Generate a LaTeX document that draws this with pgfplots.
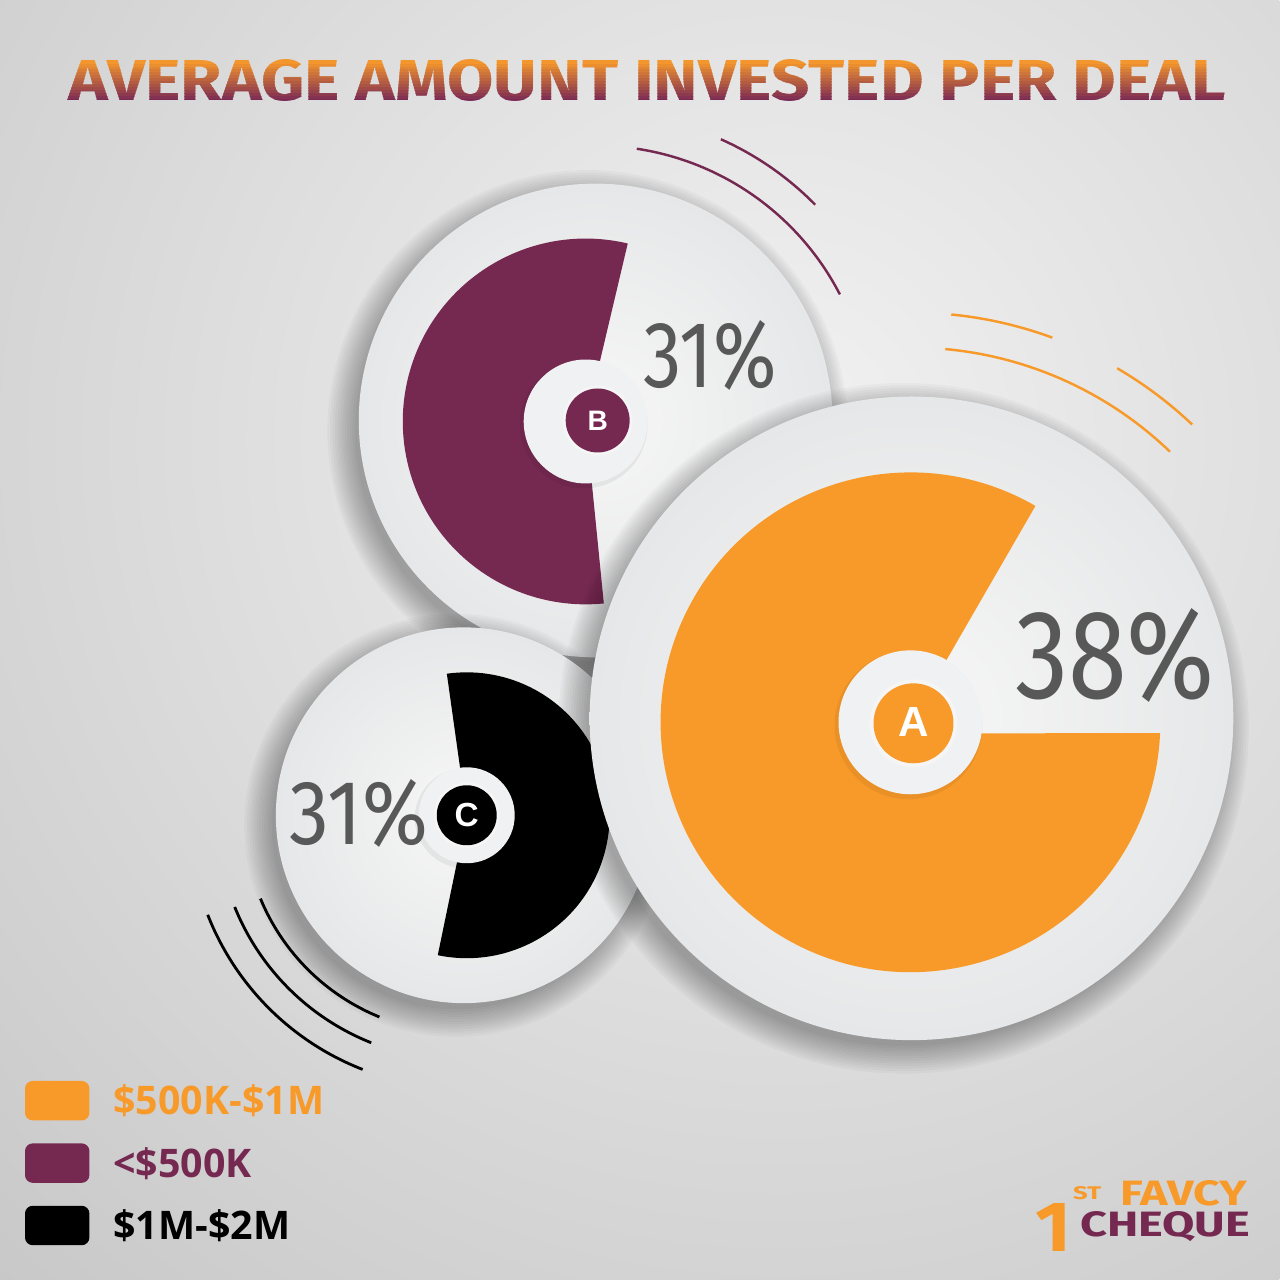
\documentclass[border=0pt]{standalone}
\usepackage{pgfplots}
\pgfplotsset{compat=1.18}
\usepackage{fontspec}
\setmainfont{Open Sans}
\newfontfamily\titlefont{Fira Sans}
\newfontfamily\pctfont{Fira Sans}
\newfontfamily\dotfont{Liberation Sans}

\definecolor{orangeA}{RGB}{248,154,42}
\definecolor{purpleB}{RGB}{117,41,81}
\definecolor{pctgray}{RGB}{88,88,88}
\definecolor{titletop}{RGB}{243,150,45}
\definecolor{titlebot}{RGB}{122,41,84}
\definecolor{bgin}{RGB}{242,242,242}
\definecolor{bgout}{RGB}{200,200,200}
\definecolor{discin}{RGB}{247,247,247}
\definecolor{discout}{RGB}{230,231,232}
\definecolor{ringcol}{RGB}{240,241,242}

% soft shadow + shaded disc, coordinates in px (y up)
\newcommand{\disc}[3]{%
  \foreach \k in {0,...,11}{\fill[black,opacity=0.028] (#1-8,#2-10) circle[radius=#3-4+\k*2.5];}
  \shade[inner color=discin, outer color=discout] (#1,#2) circle[radius=#3];
}
\newcommand{\ring}[3]{%
  \fill[black,opacity=0.06] (#1-2,#2-3) circle[radius=#3+2];
  \fill[ringcol] (#1,#2) circle[radius=#3];
}

\begin{document}
\begin{tikzpicture}
% ---- decoration: background, discs, wedges, arcs (1 unit = 1 px)
\begin{scope}[x=0.01cm, y=0.01cm]
  \begin{scope}
    \clip (0,0) rectangle (1280,1280);
    \shade[inner color=bgin, outer color=bgout] (780,840) circle[radius=1150];
  \end{scope}

  % arcs
  \draw[purpleB, line width=0.7pt] (596,860) ++(81.4:275) arc[start angle=81.4, end angle=27.3, radius=275];
  \draw[purpleB, line width=0.7pt] (596,860) ++(66:308) arc[start angle=66, end angle=44.5, radius=308];
  \draw[orangeA, line width=0.7pt] (912,560) ++(84.4:408) arc[start angle=84.4, end angle=69.8, radius=408];
  \draw[orangeA, line width=0.7pt] (912,560) ++(84.8:373) arc[start angle=84.8, end angle=46.1, radius=373];
  \draw[orangeA, line width=0.7pt] (912,560) ++(59.7:408) arc[start angle=59.7, end angle=46.5, radius=408];
  \draw[black, line width=0.8pt] (462,465) ++(202.5:218) arc[start angle=202.5, end angle=247.8, radius=218];
  \draw[black, line width=0.8pt] (462,465) ++(202:245) arc[start angle=202, end angle=248.3, radius=245];
  \draw[black, line width=0.8pt] (462,465) ++(201.4:273) arc[start angle=201.4, end angle=248.7, radius=273];

  % B
  \disc{596}{860}{237}
  \fill[purpleB] (586,859) -- ++(76.7:183) arc[start angle=76.7, end angle=275.7, radius=183] -- cycle;
  \ring{586}{859}{62}
  \fill[white!92!gray] (598,860) circle[radius=35];
  \fill[purpleB] (598,860) circle[radius=32];
  \node[text=white, font=\dotfont\bfseries\fontsize{8}{9}\selectfont] at (598,860) {B};

  % C
  \disc{464}{465}{188}
  \fill[black] (467,465) -- ++(-101.7:143) arc[start angle=-101.7, end angle=98, radius=143] -- cycle;
  \ring{467}{465}{48}
  \fill[white!92!gray] (467,465) circle[radius=33];
  \fill[black] (467,465) circle[radius=30];
  \node[text=white, font=\dotfont\bfseries\fontsize{9.5}{10}\selectfont] at (467,465) {C};

  % A
  \disc{912}{562}{322}
  \fill[orangeA] (911,558) -- ++(60:250) arc[start angle=60, end angle=357.5, radius=250] -- (911,547) -- cycle;
  \ring{911}{558}{72}
  \fill[white!92!gray] (914,557) circle[radius=44];
  \fill[orangeA] (914,557) circle[radius=40];
  \node[text=white, font=\dotfont\bfseries\fontsize{12}{13}\selectfont] at (914,558) {A};
\end{scope}

% ---- data: percentages and legend
\begin{axis}[
  at={(0,0)}, anchor=south west,
  width=12.8cm, height=12.8cm, scale only axis,
  xmin=0, xmax=1280, ymin=0, ymax=1280,
  hide axis, clip=false,
  legend image code/.code={\fill[#1, rounded corners=0.07cm] (0cm,-0.19cm) rectangle (0.63cm,0.19cm);},
  legend cell align=left,
  legend style={draw=none, fill=none, inner sep=0pt, outer sep=0pt,
    at={(0.01953,0.15547)}, anchor=north west,
    row sep=0.23cm, column sep=0.24cm,
    nodes={inner sep=0pt, text height=0.28cm, text depth=0pt},
    font=\fontsize{11.2}{13}\selectfont\bfseries},
]
\addplot[only marks, mark=none, forget plot, point meta=explicit symbolic,
  nodes near coords={\resizebox{2.00cm}{0.90cm}{\pctfont\pgfplotspointmeta\%}},
  every node near coord/.append style={anchor=center, inner sep=0pt, text=pctgray}]
  coordinates {(1115,625) [38]};
\addplot[only marks, mark=none, forget plot, point meta=explicit symbolic,
  nodes near coords={\resizebox{1.33cm}{0.67cm}{\pctfont\pgfplotspointmeta\%}},
  every node near coord/.append style={anchor=center, inner sep=0pt, text=pctgray}]
  coordinates {(710,925) [31]};
\addplot[only marks, mark=none, forget plot, point meta=explicit symbolic,
  nodes near coords={\resizebox{1.38cm}{0.65cm}{\pctfont\pgfplotspointmeta\%}},
  every node near coord/.append style={anchor=center, inner sep=0pt, text=pctgray}]
  coordinates {(359,467) [31]};

\addlegendimage{orangeA}
\addlegendentry{\textcolor{orangeA}{\$500K-\$1M}}
\addlegendimage{purpleB}
\addlegendentry{\textcolor{purpleB}{<\$500K}}
\addlegendimage{black}
\addlegendentry{\textcolor{black}{\$1M-\$2M}}
\end{axis}

% ---- title with vertical gradient, and logo
\begin{scope}[x=0.01cm, y=0.01cm]
  \foreach \i in {0,...,13}{
    \pgfmathsetmacro\yt{1219.5-\i*2.93+(\i==0)*40}
    \pgfmathsetmacro\yb{1219-(\i+1)*2.93-(\i==13)*40}
    \pgfmathtruncatemacro\p{100*\i/13}
    \colorlet{tc}{titlebot!\p!titletop}
    \begin{scope}
      \clip (40,\yb) rectangle (1260,\yt);
      \node[anchor=south west, inner sep=0pt, text=tc] at (68,1178)
        {\titlefont\bfseries\resizebox{11.57cm}{0.41cm}{AVERAGE AMOUNT INVESTED PER DEAL}};
    \end{scope}
  }
  \node[anchor=south west, inner sep=0pt, text=orangeA] at (1035,28)
    {\titlefont\bfseries\resizebox{0.36cm}{0.48cm}{1}};
  \node[anchor=south west, inner sep=0pt, text=orangeA] at (1073,80)
    {\titlefont\bfseries\resizebox{0.28cm}{0.13cm}{ST}};
  \node[anchor=south west, inner sep=0pt, text=orangeA] at (1120,73)
    {\titlefont\bfseries\resizebox{1.27cm}{0.25cm}{FAVCY}};
  \node[anchor=south west, inner sep=0pt, text=purpleB] at (1080,38)
    {\titlefont\bfseries\resizebox{1.70cm}{0.25cm}{CHEQUE}};
\end{scope}
\pgfresetboundingbox
\path (0,0) rectangle (12.8cm,12.8cm);
\end{tikzpicture}
\end{document}
